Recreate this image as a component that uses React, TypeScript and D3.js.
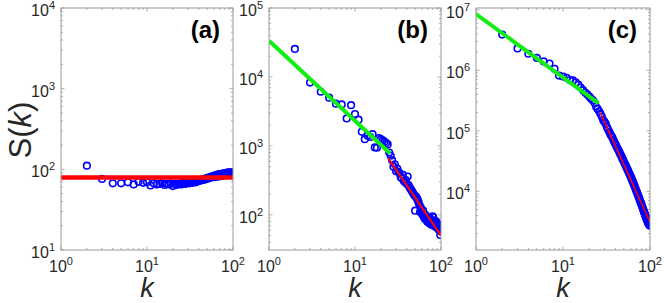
import React from 'react';
import * as d3 from 'd3';

// degree k (same for all three panels)
const K = [
  2, 3, 4, 5, 6, 7, 8, 9, 10, 11, 12, 13, 14, 15, 16, 17, 18, 19, 20, 21,
  22, 23, 24, 25, 26, 27, 28, 29, 30, 31, 32, 33, 34, 35, 36, 37, 38, 39, 40, 41,
  42, 43, 44, 45, 46, 47, 48, 49, 50, 51, 52, 53, 54, 55, 56, 57, 58, 59, 60, 61,
  62, 63, 64, 65, 66, 67, 68, 69, 70, 71, 72, 73, 74, 75, 76, 77, 78, 79, 80, 81,
  82, 83, 84, 85, 86, 87, 88, 89, 90, 91, 92, 93, 94, 95, 96, 97, 98, 99, 100,
];

// S(k) panel (a)
const sA = [
  111, 76, 67, 67, 69, 65, 70, 68, 69, 63, 67, 65, 66, 67, 64, 66, 65, 67, 62, 66,
  64, 66, 67, 65, 67, 68, 66, 68, 69, 67, 69, 70, 68, 70, 71, 69, 72, 71, 73, 72,
  74, 73, 75, 74, 76, 75, 77, 76, 78, 77, 79, 78, 80, 79, 81, 80, 82, 81, 83, 80,
  84, 82, 85, 81, 86, 83, 84, 87, 82, 86, 85, 88, 83, 87, 86, 89, 84, 88, 87, 90,
  85, 89, 88, 91, 86, 90, 89, 92, 87, 90, 88, 91, 89, 92, 88, 91, 90, 89, 87,
];

// S(k) panel (b)
const sB = [
  25500, 8300, 6100, 5000, 4100, 4000, 2500, 3900, 2900, 2400, 1600, 1250, 1400, 1350, 1480, 950, 940, 1300, 1250, 1200,
  1150, 1100, 1050, 800, 720, 620, 500, 540, 430, 470, 420, 400, 350, 340, 380, 310, 300, 320, 280, 360,
  270, 250, 240, 230, 220, 210, 200, 190, 115, 185, 175, 170, 160, 150, 140, 110, 130, 120, 105, 100,
  115, 95, 90, 88, 100, 85, 92, 80, 90, 78, 85, 82, 75, 88, 80, 72, 85, 78, 95, 92,
  70, 80, 75, 68, 82, 72, 70, 78, 65, 74, 68, 62, 70, 64, 60, 66, 51, 58, 63,
];

// S(k) panel (c)
const sC = [
  3.9e6, 2.3e6, 1.88e6, 1.6e6, 1.4e6, 1.29e6, 1.06e6, 8.2e5, 7.9e5, 7.5e5, 6.9e5, 6.8e5, 6.3e5, 5.8e5, 5.2e5, 4.7e5, 4.3e5, 4.0e5, 3.7e5, 3.4e5,
  3.2e5, 2.9e5, 2.5e5, 2.3e5, 2.1e5, 1.9e5, 1.7e5, 1.5e5, 1.4e5, 1.3e5, 1.15e5, 1.05e5, 9.6e4, 8.8e4, 8.2e4, 7.7e4, 7.0e4, 6.5e4, 6.0e4, 5.6e4,
  5.2e4, 4.9e4, 4.6e4, 4.3e4, 4.0e4, 3.8e4, 3.5e4, 3.3e4, 3.1e4, 2.9e4, 2.75e4, 2.6e4, 2.45e4, 2.3e4, 2.2e4, 2.05e4, 1.95e4, 1.85e4, 1.75e4, 1.65e4,
  1.55e4, 1.47e4, 1.4e4, 1.32e4, 1.25e4, 1.18e4, 1.12e4, 1.05e4, 1.0e4, 9.5e3, 9.0e3, 8.5e3, 8.1e3, 7.7e3, 7.3e3, 6.9e3, 6.6e3, 6.3e3, 6.0e3, 5.7e3,
  5.4e3, 5.15e3, 4.9e3, 4.65e3, 4.45e3, 4.25e3, 4.05e3, 3.85e3, 3.7e3, 3.55e3, 3.4e3, 3.25e3, 3.15e3, 3.05e3, 2.95e3, 2.85e3, 2.8e3, 2.75e3, 2.7e3,
];

// fitted lines, [k, S] end points
const fitA = [[1, 79], [100, 79]];
const fitBLow = [[1, 33600], [25.5, 780]];
const fitBHigh = [[24.4, 660], [100, 50]];
const fitCLow = [[1, 8.5e6], [25.7, 2.83e5]];
const fitCHigh = [[26.8, 2.0e5], [100, 3.1e3]];

const xTicks = [1, 10, 100];
const yTicksA = [10, 100, 1000, 10000];
const yTicksB = [100, 1000, 10000, 100000];
const yTicksC = [10000, 100000, 1000000, 10000000];

const GREEN = '#11ee11';
const RED = '#ff0000';
const BLUE = '#0000ff';
const AXIS = '#9a9a9a';
const TEXT = '#262626';
const FONT = '"Liberation Sans", Arial, Helvetica, sans-serif';

const TOP = 8;
const BOTTOM = 250;

const panels = [
  {
    id: 'a', left: 61, right: 233, yDomain: [10, 10000], yTicks: yTicksA, s: sA,
    fits: [{ pts: fitA, color: RED, w: 4.5 }],
  },
  {
    id: 'b', left: 269, right: 441, yDomain: [Math.pow(10, 1.49), 100000], yTicks: yTicksB, s: sB,
    fits: [{ pts: fitBLow, color: GREEN, w: 4 }, { pts: fitBHigh, color: RED, w: 2 }],
  },
  {
    id: 'c', left: 476, right: 650, yDomain: [Math.pow(10, 3.03), Math.pow(10, 7.03)], yTicks: yTicksC, s: sC,
    fits: [{ pts: fitCLow, color: GREEN, w: 4 }, { pts: fitCHigh, color: RED, w: 1.5 }],
  },
];

const Pow10 = ({ x, y, e, anchor }: { x: number; y: number; e: number; anchor: string }) => (
  <text x={x} y={y} textAnchor={anchor} fontSize={16} fill={TEXT} fontFamily={FONT}>
    10<tspan dy={-7} fontSize={11}>{e}</tspan>
  </text>
);

function minorTicks(domain: number[]) {
  const out: number[] = [];
  const lo = Math.floor(Math.log10(domain[0]));
  const hi = Math.ceil(Math.log10(domain[1]));
  for (let d = lo; d < hi; d++) {
    for (let m = 2; m <= 9; m++) {
      const v = m * Math.pow(10, d);
      if (v > domain[0] && v < domain[1]) out.push(v);
    }
  }
  return out;
}

const Panel = ({ p }: { p: typeof panels[number] }) => {
  const x = d3.scaleLog().domain([1, 100]).range([p.left, p.right]);
  const y = d3.scaleLog().domain(p.yDomain).range([BOTTOM, TOP]);
  const line = d3.line<number[]>().x((d) => x(d[0])).y((d) => y(d[1]));
  const clipId = `clip-${p.id}`;
  const xMinor = minorTicks([1, 100]);
  const yMinor = minorTicks(p.yDomain);
  const yMajor = p.yTicks.filter((t) => t >= p.yDomain[0] && t <= p.yDomain[1] * 1.0001);

  return (
    <g>
      <defs>
        <clipPath id={clipId}>
          <rect x={p.left} y={TOP} width={p.right - p.left} height={BOTTOM - TOP} />
        </clipPath>
      </defs>

      {/* ticks */}
      <g stroke={AXIS} strokeWidth={0.8}>
        {xTicks.map((t) => (
          <g key={`xM${t}`}>
            <line x1={x(t)} x2={x(t)} y1={BOTTOM} y2={BOTTOM - 3.5} />
            <line x1={x(t)} x2={x(t)} y1={TOP} y2={TOP + 3.5} />
          </g>
        ))}
        {xMinor.map((t) => (
          <g key={`xm${t}`}>
            <line x1={x(t)} x2={x(t)} y1={BOTTOM} y2={BOTTOM - 2} />
            <line x1={x(t)} x2={x(t)} y1={TOP} y2={TOP + 2} />
          </g>
        ))}
        {yMajor.map((t) => (
          <g key={`yM${t}`}>
            <line x1={p.left} x2={p.left + 3.5} y1={y(t)} y2={y(t)} />
            <line x1={p.right} x2={p.right - 3.5} y1={y(t)} y2={y(t)} />
          </g>
        ))}
        {yMinor.map((t) => (
          <g key={`ym${t}`}>
            <line x1={p.left} x2={p.left + 2} y1={y(t)} y2={y(t)} />
            <line x1={p.right} x2={p.right - 2} y1={y(t)} y2={y(t)} />
          </g>
        ))}
      </g>

      {/* data */}
      <g clipPath={`url(#${clipId})`}>
        {K.map((k, i) => (
          <circle key={k} cx={x(k)} cy={y(p.s[i])} r={3.3} fill="none" stroke={BLUE} strokeWidth={1.6} />
        ))}
        {p.fits.map((f, i) => (
          <path key={i} d={line(f.pts) ?? ''} fill="none" stroke={f.color} strokeWidth={f.w} />
        ))}
      </g>

      <rect x={p.left} y={TOP} width={p.right - p.left} height={BOTTOM - TOP} fill="none" stroke={AXIS} strokeWidth={1} />

      {/* tick labels */}
      {xTicks.map((t) => (
        <Pow10 key={`xl${t}`} x={x(t)} y={272} e={Math.round(Math.log10(t))} anchor="middle" />
      ))}
      {yMajor.map((t) => (
        <Pow10 key={`yl${t}`} x={p.left - 6} y={y(t) + 8} e={Math.round(Math.log10(t))} anchor="end" />
      ))}

      <text x={(p.left + p.right) / 2} y={297} textAnchor="middle" fontSize={27} fontStyle="italic" fill={TEXT} fontFamily={FONT}>
        k
      </text>
      <text x={p.right - 13} y={38} textAnchor="end" fontSize={24} fontWeight="bold" fill="#000" fontFamily={FONT}>
        ({p.id})
      </text>
    </g>
  );
};

const App = () => (
  <svg width={664} height={303} style={{ position: 'absolute', left: 0, top: 0, background: '#fff' }}>
    <rect width={664} height={303} fill="#fff" />
    {panels.map((p) => (
      <Panel key={p.id} p={p} />
    ))}
    <text transform="translate(31,130) rotate(-90)" textAnchor="middle" fontSize={31} fill={TEXT} fontFamily={FONT}>
      S(<tspan fontStyle="italic">k</tspan>)
    </text>
  </svg>
);

export default App;
